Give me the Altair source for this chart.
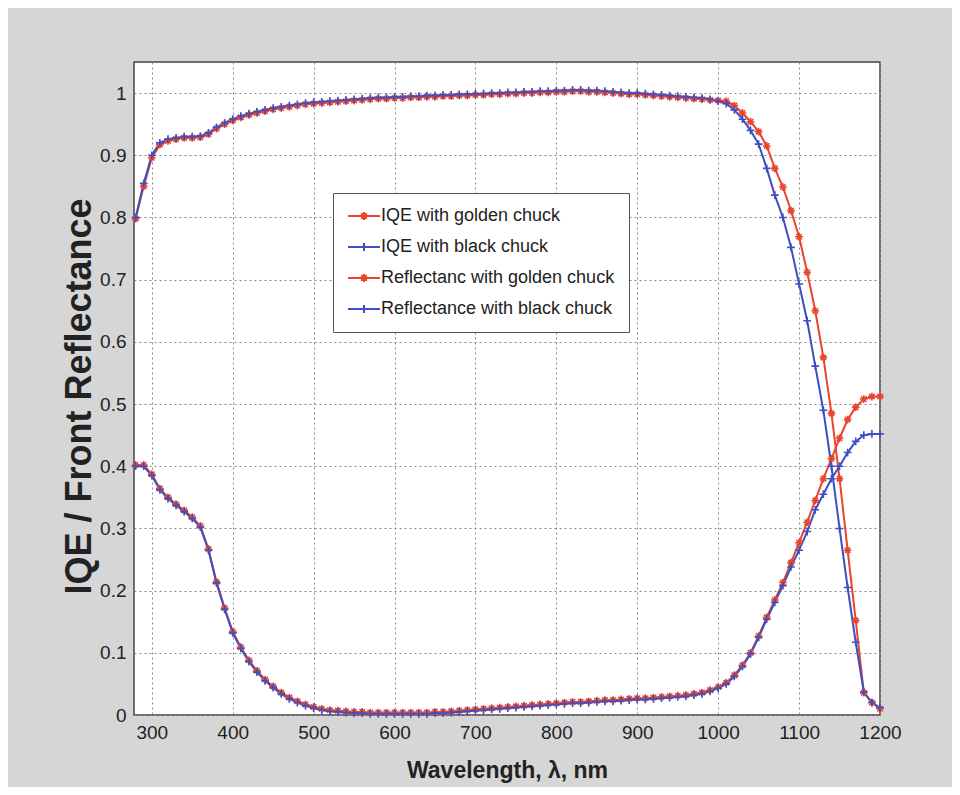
import altair as alt
import pandas as pd

wavelength = list(range(280, 1201, 10))

iqe_black = [
    0.800, 0.855, 0.900, 0.920, 0.926, 0.928, 0.930, 0.930, 0.931, 0.936,
    0.945, 0.952, 0.958, 0.963, 0.967, 0.970, 0.973, 0.976, 0.978, 0.980,
    0.982, 0.984, 0.985, 0.986, 0.987, 0.988, 0.989, 0.990, 0.991, 0.992,
    0.993, 0.993, 0.994, 0.994, 0.995, 0.995, 0.996, 0.996, 0.997, 0.997,
    0.998, 0.998, 0.999, 0.999, 1.000, 1.000, 1.001, 1.001, 1.002, 1.002,
    1.003, 1.003, 1.004, 1.004, 1.005, 1.005, 1.004, 1.004, 1.003, 1.002,
    1.001, 1.000, 1.000, 0.999, 0.998, 0.997, 0.996, 0.995, 0.994, 0.993,
    0.992, 0.990, 0.987, 0.983, 0.973, 0.958, 0.940, 0.918, 0.879, 0.836,
    0.800, 0.752, 0.693, 0.634, 0.561, 0.490, 0.400, 0.300, 0.205, 0.117,
    0.037, 0.020, 0.012,
]

iqe_golden = [
    0.798, 0.850, 0.896, 0.917, 0.923, 0.926, 0.928, 0.928, 0.929, 0.934,
    0.943, 0.950, 0.956, 0.961, 0.965, 0.968, 0.971, 0.974, 0.976, 0.978,
    0.980, 0.982, 0.983, 0.984, 0.985, 0.986, 0.987, 0.988, 0.989, 0.990,
    0.991, 0.991, 0.992, 0.992, 0.993, 0.993, 0.994, 0.994, 0.995, 0.995,
    0.996, 0.996, 0.997, 0.997, 0.998, 0.998, 0.999, 0.999, 1.000, 1.000,
    1.001, 1.001, 1.002, 1.002, 1.003, 1.003, 1.002, 1.002, 1.001, 1.000,
    0.999, 0.998, 0.998, 0.997, 0.996, 0.995, 0.994, 0.993, 0.992, 0.991,
    0.990, 0.989, 0.988, 0.987, 0.980, 0.968, 0.954, 0.938, 0.915, 0.879,
    0.849, 0.811, 0.769, 0.712, 0.650, 0.575, 0.485, 0.380, 0.265, 0.152,
    0.036, 0.020, 0.010,
]

refl_black = [
    0.400, 0.400, 0.385, 0.362, 0.348, 0.337, 0.327, 0.316, 0.302, 0.265,
    0.212, 0.170, 0.132, 0.107, 0.086, 0.069, 0.055, 0.044, 0.034, 0.026,
    0.020, 0.015, 0.011, 0.008, 0.006, 0.005, 0.004, 0.003, 0.003, 0.002,
    0.002, 0.002, 0.002, 0.002, 0.002, 0.002, 0.002, 0.003, 0.003, 0.004,
    0.005, 0.006, 0.007, 0.008, 0.009, 0.010, 0.011, 0.012, 0.013, 0.014,
    0.015, 0.016, 0.017, 0.018, 0.019, 0.019, 0.020, 0.021, 0.022, 0.022,
    0.023, 0.024, 0.025, 0.025, 0.026, 0.027, 0.028, 0.029, 0.030, 0.032,
    0.034, 0.038, 0.043, 0.050, 0.062, 0.078, 0.098, 0.125, 0.154, 0.181,
    0.208, 0.238, 0.265, 0.295, 0.330, 0.355, 0.380, 0.400, 0.422, 0.440,
    0.450, 0.452, 0.452,
]

refl_golden = [
    0.402, 0.402, 0.387, 0.364, 0.350, 0.339, 0.329, 0.318, 0.304, 0.267,
    0.214, 0.172, 0.134, 0.109, 0.088, 0.071, 0.057, 0.046, 0.036, 0.028,
    0.022, 0.017, 0.013, 0.010, 0.008, 0.007, 0.006, 0.005, 0.005, 0.004,
    0.004, 0.004, 0.004, 0.004, 0.004, 0.004, 0.004, 0.005, 0.005, 0.006,
    0.007, 0.008, 0.009, 0.010, 0.011, 0.012, 0.013, 0.014, 0.015, 0.016,
    0.017, 0.018, 0.019, 0.020, 0.021, 0.021, 0.022, 0.023, 0.024, 0.024,
    0.025, 0.026, 0.027, 0.027, 0.028, 0.029, 0.030, 0.031, 0.032, 0.034,
    0.036, 0.040, 0.045, 0.052, 0.064, 0.080, 0.100, 0.127, 0.157, 0.185,
    0.213, 0.245, 0.277, 0.310, 0.345, 0.380, 0.412, 0.445, 0.475, 0.495,
    0.508, 0.512, 0.512,
]

series_names = [
    "IQE with golden chuck",
    "IQE with black chuck",
    "Reflectanc with golden chuck",
    "Reflectance with black chuck",
]
series_values = [iqe_golden, iqe_black, refl_golden, refl_black]
series_colors = ["#e8452c", "#3c4fc4", "#e8452c", "#3c4fc4"]

x_ticks = [300, 400, 500, 600, 700, 800, 900, 1000, 1100, 1200]
y_ticks = [0, 0.1, 0.2, 0.3, 0.4, 0.5, 0.6, 0.7, 0.8, 0.9, 1.0]

# draw golden series first so black ones sit on top
draw_order = [0, 2, 1, 3]
rows = []
for order, idx in enumerate(draw_order):
    for w, v in zip(wavelength, series_values[idx]):
        rows.append({"wl": w, "val": v, "series": series_names[idx], "ord": order})
df = pd.DataFrame(rows)

STAR = "M-1,0L1,0M0,-1L0,1M-0.7,-0.7L0.7,0.7M-0.7,0.7L0.7,-0.7"
PLUS = "M-1,0L1,0M0,-1L0,1"
LEG_STAR = "M-4,0L4,0M0,-1L0,1M-0.7,-0.7L0.7,0.7M-0.7,0.7L0.7,-0.7"
LEG_PLUS = "M-4,0L4,0M0,-1L0,1"

color_scale = alt.Scale(domain=series_names, range=series_colors)
shape_scale = alt.Scale(domain=series_names, range=[STAR, PLUS, STAR, PLUS])
leg_shape_scale = alt.Scale(domain=series_names, range=[LEG_STAR, LEG_PLUS, LEG_STAR, LEG_PLUS])

FONT = "Liberation Sans"

x_enc = alt.X(
    "wl:Q",
    scale=alt.Scale(domain=[278, 1200], nice=False, zero=False),
    axis=alt.Axis(
        values=x_ticks,
        format="d",
        labelFlush=False,
        title="Wavelength, λ, nm",
        titleY=44,
        titleBaseline="top",
        titleFontSize=23,
    ),
)
y_enc = alt.Y(
    "val:Q",
    scale=alt.Scale(domain=[0, 1.05], nice=False),
    axis=alt.Axis(
        values=y_ticks,
        format=".1~f",
        labelFlush=False,
        title="IQE / Front Reflectance",
        titleX=-36,
        titleY=334,
        titleFontSize=36,
    ),
)

lines = alt.Chart(df).mark_line(strokeWidth=2).encode(
    x=x_enc,
    y=y_enc,
    color=alt.Color("series:N", scale=color_scale, legend=None),
    detail="series:N",
    order="wl:Q",
)

points = alt.Chart(df).mark_point(filled=False, size=60, strokeWidth=1.6, opacity=1).encode(
    x=x_enc,
    y=y_enc,
    color=alt.Color("series:N", scale=color_scale, legend=None),
    shape=alt.Shape("series:N", scale=shape_scale, legend=None),
)

leg = alt.Legend(
    title=None,
    orient="none",
    legendX=199,
    legendY=131,
    fillColor="white",
    strokeColor="#555",
    padding=14,
    rowPadding=13,
    symbolSize=64,
    symbolStrokeWidth=2,
    symbolOpacity=1,
    symbolOffset=8,
    labelOffset=8,
    labelFont=FONT,
    labelFontSize=18,
    labelColor="#222",
    labelLimit=400,
)

legend_layer = alt.Chart(df).mark_point(filled=False, size=0, opacity=0).encode(
    x=x_enc,
    y=y_enc,
    color=alt.Color("series:N", scale=color_scale, legend=leg),
    shape=alt.Shape("series:N", scale=leg_shape_scale, legend=leg),
)

chart = (
    alt.layer(lines, points, legend_layer)
    .resolve_scale(shape="independent", color="independent")
    .properties(
        width=746,
        height=653,
        background="#d6d6d6",
        padding={"left": 126, "top": 54, "right": 72, "bottom": 72},
        autosize="none",
    )
    .configure_view(fill="white", stroke="#444", strokeWidth=1.5)
    .configure_axis(
        grid=True,
        gridColor="#888",
        gridDash=[2, 3],
        gridWidth=1,
        domain=False,
        ticks=False,
        labelFont=FONT,
        labelFontSize=19,
        labelColor="#222",
        labelPadding=8,
        titleFont=FONT,
        titleFontWeight="bold",
        titleColor="#222",
    )
)

chart.save("out.html", embed_options={"renderer": "svg", "actions": False})
